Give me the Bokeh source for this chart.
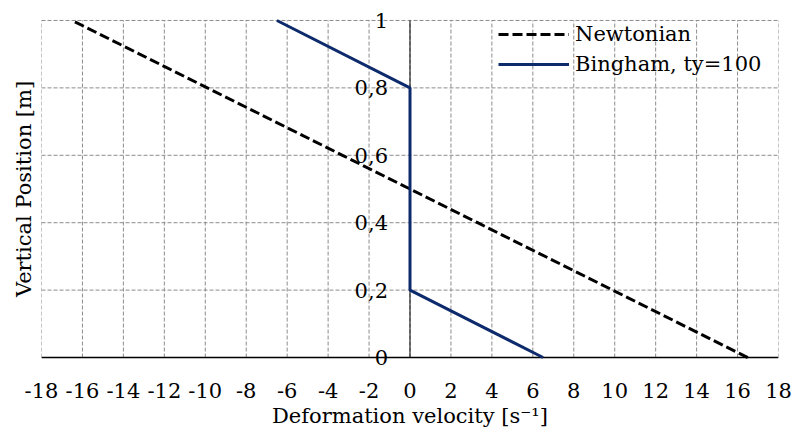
from bokeh.plotting import figure
from bokeh.models import FixedTicker, Legend, LegendItem, Label, Range1d
from bokeh.embed import file_html
from bokeh.resources import INLINE

# data
newt_y = [0.0, 0.2, 0.4, 0.6, 0.8, 1.0]
newt_v = [16.5, 9.9, 3.3, -3.3, -9.9, -16.5]
bing_y = [0.0, 0.2, 0.8, 1.0]
bing_v = [6.5, 0.0, 0.0, -6.5]
x_ticks = list(range(-18, 19, 2))
x_tick_labels = [str(t) for t in x_ticks]
y_ticks = [0.0, 0.2, 0.4, 0.6, 0.8, 1.0]
y_tick_labels = ["0", "0,2", "0,4", "0,6", "0,8", "1"]

FONT = "DejaVu Serif"
TICK_FS = "21px"
LAB_FS = "21px"

X0, X1 = x_ticks[0], x_ticks[-1]
Y0, Y1 = y_ticks[0], y_ticks[-1]
PAD = 0.0355  # room inside the frame for the end tick labels

p = figure(width=795, height=430, output_backend="svg", toolbar_location=None,
           x_range=Range1d(X0, X1), y_range=Range1d(Y0 - PAD, Y1 + PAD),
           min_border_left=41, min_border_right=17, min_border_top=8, min_border_bottom=60)
p.outline_line_color = None
p.background_fill_color = "white"
p.xgrid.visible = False
p.ygrid.visible = False

# dashed grid limited to the data box
GRID = dict(line_color="#8c8c8c", line_dash="4 2", line_width=1)
p.segment(x0=x_ticks, y0=[Y0] * len(x_ticks), x1=x_ticks, y1=[Y1] * len(x_ticks), **GRID)
p.segment(x0=[X0] * len(y_ticks), y0=y_ticks, x1=[X1] * len(y_ticks), y1=y_ticks, **GRID)

# axis lines through the origin
p.segment(x0=[X0], y0=[0], x1=[X1], y1=[0], line_color="black", line_width=1.6)
p.segment(x0=[0], y0=[Y0], x1=[0], y1=[Y1], line_color="black", line_width=1)

# x axis (labels only)
xa = p.xaxis[0]
xa.ticker = FixedTicker(ticks=x_ticks)
xa.major_label_overrides = {t: l for t, l in zip(x_ticks, x_tick_labels)}
xa.major_tick_out = 0
xa.major_tick_in = 0
xa.minor_tick_out = 0
xa.minor_tick_in = 0
xa.axis_line_color = None
xa.major_label_standoff = 13
xa.major_label_text_font = FONT
xa.major_label_text_font_size = TICK_FS
xa.major_label_text_color = "black"
xa.axis_label = "Deformation velocity [s\u207b\u00b9]"
xa.axis_label_text_font = FONT
xa.axis_label_text_font_size = LAB_FS
xa.axis_label_text_font_style = "normal"
xa.axis_label_text_color = "black"
xa.axis_label_standoff = 3

# y axis (title only)
ya = p.yaxis[0]
ya.ticker = FixedTicker(ticks=[])
ya.major_tick_out = 0
ya.major_tick_in = 0
ya.minor_tick_out = 0
ya.minor_tick_in = 0
ya.axis_line_color = None
ya.major_label_standoff = 0
ya.axis_label = "Vertical Position [m]"
ya.axis_label_text_font = FONT
ya.axis_label_text_font_size = LAB_FS
ya.axis_label_text_font_style = "normal"
ya.axis_label_text_color = "black"
ya.axis_label_standoff = 6

r1 = p.line(newt_v, newt_y, line_color="black", line_width=3, line_dash="10 4")
r2 = p.line(bing_v, bing_y, line_color="#0d2b6c", line_width=3)

# y tick labels beside x = 0
for yv, lab in zip(y_ticks, y_tick_labels):
    p.add_layout(Label(x=0, y=yv, text=lab, x_offset=-22, text_align="right",
                       text_baseline="middle", text_font=FONT, text_font_size=TICK_FS,
                       text_color="black"))

legend = Legend(items=[LegendItem(label="Newtonian", renderers=[r1]),
                       LegendItem(label="Bingham, ty=100", renderers=[r2])],
                location=(457, 290), orientation="vertical")
legend.background_fill_alpha = 0
legend.border_line_color = None
legend.padding = 0
legend.margin = 0
legend.spacing = 0
legend.label_height = 30
legend.glyph_height = 30
legend.glyph_width = 71
legend.label_standoff = 6
legend.label_text_font = FONT
legend.label_text_font_size = LAB_FS
legend.label_text_color = "black"
p.add_layout(legend, "center")

open("out.html", "w").write(file_html(p, INLINE))
